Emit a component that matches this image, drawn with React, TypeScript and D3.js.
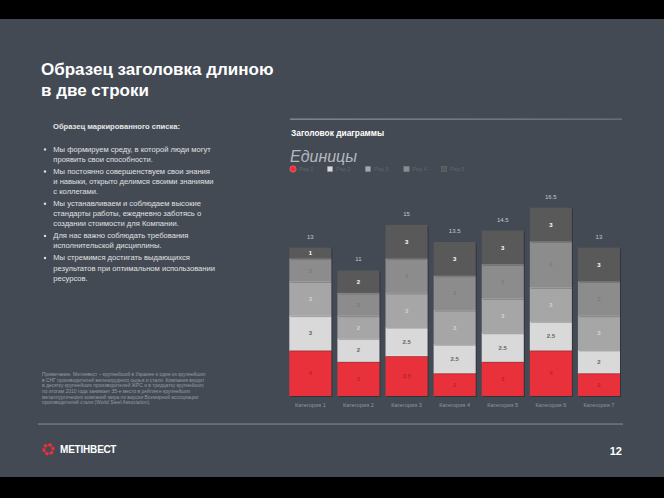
import React from "react";
import * as d3 from "d3";

const categories = ["Категория 1", "Категория 2", "Категория 3", "Категория 4", "Категория 5", "Категория 6", "Категория 7"];
const seriesNames = ["Ряд 1", "Ряд 2", "Ряд 3", "Ряд 4", "Ряд 5"];
const s1 = [4, 3, 3.5, 2, 3, 4, 2];
const s2 = [3, 2, 2.5, 2.5, 2.5, 2.5, 2];
const s3 = [3, 2, 3, 3, 3, 3, 3];
const s4 = [2, 2, 3, 3, 3, 4, 3];
const s5 = [1, 2, 3, 3, 3, 3, 3];
const seriesValues = [s1, s2, s3, s4, s5];

const colors = ["#e8313b", "#d9d9d9", "#a6a6a6", "#8c8c8c", "#595959"];
const labelColors = ["#b8252d", "#666666", "#d2d2d2", "#7c7c7c", "#ffffff"];

const bullets = [
  ["Мы формируем среду, в которой люди могут", "проявить свои способности."],
  ["Мы постоянно совершенствуем свои знания", "и навыки, открыто делимся своими знаниями", "с коллегами."],
  ["Мы устанавливаем и соблюдаем высокие", "стандарты работы, ежедневно заботясь о", "создании стоимости для Компании."],
  ["Для нас важно соблюдать требования", "исполнительской дисциплины."],
  ["Мы стремимся достигать выдающихся", "результатов при оптимальном использовании", "ресурсов."],
];

const noteLines = [
  "Примечание. Метинвест – крупнейший в Украине и один из крупнейших",
  "в СНГ производителей железорудного сырья и стали. Компания входит",
  "в десятку крупнейших производителей ЖРС и в тридцатку крупнейших",
  "по итогам 2010 года занимает 35-е место в рейтинге крупнейших",
  "металлургических компаний мира по версии Всемирной ассоциации",
  "производителей стали (World Steel Association).",
];

const fmt = (v: number) => String(v);

export default function App() {
  const W = 664, H = 498;
  const font = "'Liberation Sans', Arial, sans-serif";
  const x = d3.scaleBand<string>().domain(categories).range([286.3, 623]).paddingInner(0.125).paddingOuter(0.0625);
  const y = d3.scaleLinear().domain([0, 17]).range([396, 202]);

  const table = categories.map((c, i) => {
    const row: any = { cat: c };
    seriesNames.forEach((s, j) => (row[s] = seriesValues[j][i]));
    return row;
  });
  const stacked = d3.stack<any>().keys(seriesNames)(table);
  const totals = categories.map((_, i) => d3.sum(seriesValues, (s) => s[i]));

  // bullet list layout
  let ly = 149.3 + 2.5;
  const listItems: { text: string; y: number; bullet: boolean }[] = [];
  bullets.forEach((b) => {
    b.forEach((t, k) => {
      listItems.push({ text: t, y: ly, bullet: k === 0 });
      ly += 10.1;
    });
    ly += 1.9;
  });

  const hex = d3.range(6).map((k) => {
    const a = (Math.PI / 3) * k + Math.PI / 6;
    return [48.5 + 5.2 * Math.cos(a), 449.3 + 5.2 * Math.sin(a)];
  });
  const hexPath = "M" + hex.map((p) => p.join(",")).join("L") + "Z";

  return (
    <svg width={W} height={H} style={{ position: "absolute", left: 0, top: 0 }} fontFamily={font}>
      <defs>
        <linearGradient id="topline" x1="0" x2="1" y1="0" y2="0">
          <stop offset="0" stopColor="#8b9099" />
          <stop offset="1" stopColor="#6f757e" />
        </linearGradient>
      </defs>
      <rect x={0} y={0} width={W} height={H} fill="#000" />
      <rect x={0} y={19} width={W} height={458} fill="#434a54" />

      {/* Title */}
      <text x={41} y={75} fill="#ffffff" fontSize={17} fontWeight="bold">Образец заголовка длиною</text>
      <text x={41} y={96} fill="#ffffff" fontSize={17} fontWeight="bold">в две строки</text>

      {/* list */}
      <text x={53} y={128.5} fill="#e6e6e6" fontSize={7.6} fontWeight="bold">Образец маркированного списка:</text>
      {listItems.map((it, i) => (
        <g key={i}>
          {it.bullet && <circle cx={45} cy={it.y - 2.4} r={1.2} fill="#e0e0e0" />}
          <text x={53.3} y={it.y} fill="#e0e0e0" fontSize={7.6}>{it.text}</text>
        </g>
      ))}

      {/* note */}
      {noteLines.map((t, i) => (
        <text key={i} x={42} y={375.8 + i * 5.7} fill="#959ba3" fontSize={4.9}>{t}</text>
      ))}

      {/* lines */}
      <rect x={290} y={118.5} width={332} height={1.3} fill="url(#topline)" />
      <rect x={38} y={423.3} width={585} height={1.5} fill="#727882" />

      {/* chart title */}
      <text x={291} y={136} fill="#ffffff" fontSize={8.4} fontWeight="bold">Заголовок диаграммы</text>
      <text x={290} y={161.5} fill="#b4b8be" fontSize={16} fontStyle="italic">Единицы</text>

      {/* legend */}
      {seriesNames.map((s, j) => {
        const lx = [293, 330, 368, 406.5, 444][j];
        return (
          <g key={s}>
            {j === 0 ? (
              <circle cx={lx} cy={169} r={3.2} fill={colors[0]} stroke="#ff6b73" strokeWidth={0.6} />
            ) : (
              <rect x={lx - 2.8} y={166.2} width={5.6} height={5.6} fill={colors[j]} stroke="#6a6f77" strokeWidth={0.4} />
            )}
            <text x={lx + 6} y={171} fill="#5f666f" fontSize={5.5}>{s}</text>
          </g>
        );
      })}

      {/* bars */}
      {stacked.map((layer, j) => (
        <g key={layer.key}>
          {layer.map((d, i) => {
            const bx = x(categories[i])!;
            const y0 = y(d[1]);
            const h = y(d[0]) - y(d[1]);
            return (
              <g key={i}>
                <rect x={bx + 1} y={y0 + 1} width={x.bandwidth()} height={h} fill="rgba(0,0,0,0.28)" />
                <rect x={bx} y={y0} width={x.bandwidth()} height={h} fill={colors[j]} />
                <text x={bx + x.bandwidth() / 2} y={y0 + h / 2 + 2.1} textAnchor="middle" fill={labelColors[j]} fontSize={6} fontWeight="bold">
                  {fmt(seriesValues[j][i])}
                </text>
              </g>
            );
          })}
        </g>
      ))}
      {/* separators between segments */}
      {stacked.slice(1).map((layer, j) => (
        <g key={"sep" + j}>
          {layer.map((d, i) => (
            <rect key={i} x={x(categories[i])!} y={y(d[0]) - 0.4} width={x.bandwidth()} height={0.8} fill="rgba(255,255,255,0.35)" />
          ))}
        </g>
      ))}

      {/* totals */}
      {totals.map((t, i) => (
        <text key={i} x={x(categories[i])! + x.bandwidth() / 2} y={y(t) - 9} textAnchor="middle" fill="#c4c8cd" fontSize={6}>
          {fmt(t)}
        </text>
      ))}

      {/* category labels */}
      {categories.map((c) => (
        <text key={c} x={x(c)! + x.bandwidth() / 2} y={407} textAnchor="middle" fill="#8f959e" fontSize={5.6}>{c}</text>
      ))}

      {/* logo */}
      <path d={hexPath} fill="none" stroke="#e8313b" strokeWidth={3} strokeDasharray="3.6 1.6" />
      <text x={60} y={453} fill="#ffffff" fontSize={10} fontWeight="bold" letterSpacing={-0.2}>МЕТІНВЕСТ</text>

      {/* page number */}
      <text x={622} y={455} textAnchor="end" fill="#ffffff" fontSize={11} fontWeight="bold">12</text>
    </svg>
  );
}
